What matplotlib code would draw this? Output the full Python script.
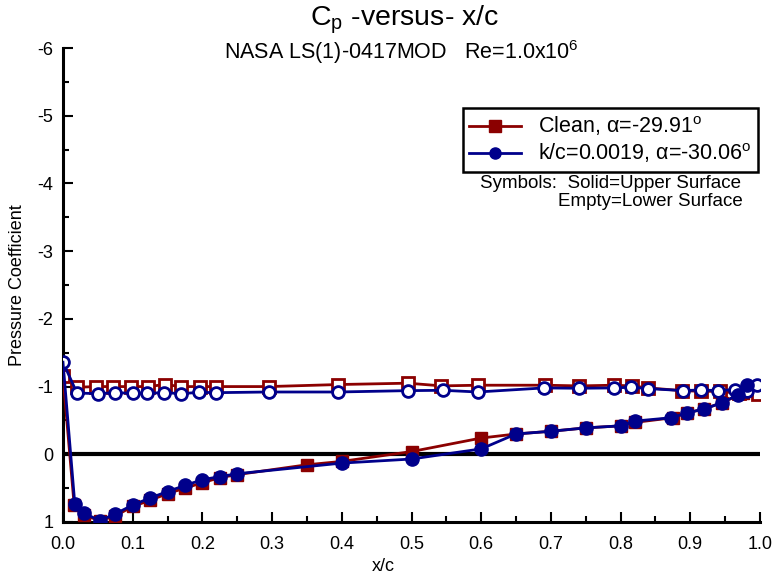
import matplotlib
matplotlib.use("Agg")
import matplotlib.pyplot as plt
from matplotlib.lines import Line2D
from matplotlib.ticker import MultipleLocator, FormatStrFormatter

plt.rcParams['font.family'] = ['Liberation Sans', 'DejaVu Sans']
plt.rcParams['axes.unicode_minus'] = False
plt.rcParams['mathtext.fontset'] = 'custom'
plt.rcParams['mathtext.rm'] = 'Liberation Sans'
plt.rcParams['mathtext.it'] = 'Liberation Sans:italic'

# Clean airfoil, upper surface (first point is the leading edge, shared with lower surface)
clean_upper_x = [0.0, 0.016, 0.03, 0.053, 0.075, 0.10, 0.125, 0.15, 0.175, 0.20, 0.225,
                 0.25, 0.35, 0.40, 0.50, 0.60, 0.65, 0.70, 0.75, 0.80, 0.82, 0.875,
                 0.895, 0.92, 0.945, 0.975]
clean_upper_cp = [-1.15, 0.75, 0.90, 0.98, 0.91, 0.77, 0.68, 0.58, 0.50, 0.42, 0.345,
                  0.30, 0.155, 0.105, -0.04, -0.24, -0.30, -0.34, -0.39, -0.42, -0.47,
                  -0.54, -0.61, -0.67, -0.76, -0.90]

# Clean airfoil, lower surface
clean_lower_x = [0.0, 0.02, 0.048, 0.072, 0.098, 0.122, 0.146, 0.17, 0.196, 0.22, 0.295,
                 0.395, 0.495, 0.543, 0.596, 0.692, 0.741, 0.79, 0.816, 0.84, 0.888,
                 0.916, 0.942, 0.97, 0.997]
clean_lower_cp = [-1.15, -0.99, -1.0, -1.0, -1.0, -1.0, -1.03, -1.0, -1.0, -1.0, -1.0,
                  -1.03, -1.05, -1.01, -1.02, -1.02, -1.01, -1.02, -1.01, -0.98, -0.94,
                  -0.93, -0.93, -0.90, -0.89]

# Roughness k/c = 0.0019, upper surface (first point is the leading edge)
rough_upper_x = [0.0, 0.017, 0.03, 0.053, 0.075, 0.10, 0.125, 0.15, 0.175, 0.20, 0.225,
                 0.25, 0.40, 0.50, 0.60, 0.65, 0.70, 0.75, 0.80, 0.82, 0.873, 0.895,
                 0.92, 0.945, 0.969, 0.982]
rough_upper_cp = [-1.36, 0.74, 0.87, 0.98, 0.88, 0.75, 0.645, 0.55, 0.46, 0.375, 0.33,
                  0.287, 0.13, 0.07, -0.08, -0.30, -0.34, -0.39, -0.42, -0.49, -0.54,
                  -0.61, -0.67, -0.76, -0.88, -1.02]

# Roughness k/c = 0.0019, lower surface
rough_lower_x = [0.0, 0.02, 0.05, 0.075, 0.10, 0.12, 0.145, 0.17, 0.195, 0.22, 0.295,
                 0.395, 0.495, 0.545, 0.595, 0.69, 0.74, 0.79, 0.815, 0.84, 0.89,
                 0.915, 0.94, 0.964, 0.982, 0.996]
rough_lower_cp = [-1.36, -0.905, -0.895, -0.91, -0.90, -0.90, -0.91, -0.895, -0.915, -0.91,
                  -0.92, -0.92, -0.94, -0.945, -0.92, -0.98, -0.975, -0.98, -0.99, -0.97,
                  -0.94, -0.95, -0.94, -0.955, -0.93, -1.03]

x_ticks = [0.0, 0.1, 0.2, 0.3, 0.4, 0.5, 0.6, 0.7, 0.8, 0.9, 1.0]
y_ticks = [-6, -5, -4, -3, -2, -1, 0, 1]

red = '#8b0000'
blue = '#00008b'

fig = plt.figure(figsize=(7.75, 5.76), dpi=100)
ax = fig.add_axes([63 / 775, 1 - 522 / 576, 697 / 775, 474 / 576])

# zero reference line
ax.plot([0.0, 1.0], [0.0, 0.0], color='black', lw=3, zorder=1)

lw = 2.0
ax.plot(clean_lower_x, clean_lower_cp, color=red, lw=lw, marker='s', ms=8,
        mfc='white', mec=red, mew=2, zorder=3)
ax.plot(clean_upper_x, clean_upper_cp, color=red, lw=lw, marker='s', ms=9,
        mfc=red, mec=red, markevery=list(range(1, len(clean_upper_x))), zorder=3)
ax.plot(rough_lower_x, rough_lower_cp, color=blue, lw=lw, marker='o', ms=8.5,
        mfc='white', mec=blue, mew=2, zorder=4)
ax.plot(rough_upper_x, rough_upper_cp, color=blue, lw=lw, marker='o', ms=9.5,
        mfc=blue, mec=blue, markevery=list(range(1, len(rough_upper_x))), zorder=4)

ax.set_xlim(0.0, 1.0)
ax.set_ylim(1, -6)
ax.set_xticks(x_ticks)
ax.set_yticks(y_ticks)
ax.xaxis.set_major_formatter(FormatStrFormatter('%.1f'))
ax.xaxis.set_minor_locator(MultipleLocator(0.05))
ax.yaxis.set_minor_locator(MultipleLocator(0.5))
ax.tick_params(which='both', direction='in', labelsize=13, width=1.5)
ax.tick_params(axis='x', which='major', pad=10)
ax.tick_params(axis='y', which='major', pad=7)
ax.tick_params(which='major', length=7)
ax.tick_params(which='minor', length=4)
for side in ('top', 'right'):
    ax.spines[side].set_visible(False)
for side in ('left', 'bottom'):
    ax.spines[side].set_linewidth(2.2)

ax.set_xlabel('x/c', fontsize=13)
ax.xaxis.set_label_coords((383 - 63) / 697, -0.075)
ax.set_ylabel('Pressure Coefficient', fontsize=13, labelpad=8)

fig.text(405 / 775, 1 - 20 / 576, r'C$_{\rm p}$ -versus- x/c', ha='center', va='center',
         fontsize=20.5)
fig.text(401 / 775, 1 - 52 / 576, r'NASA LS(1)-0417MOD   Re=1.0x10$^{6}$', ha='center',
         va='center', fontsize=15.5)

handles = [
    Line2D([], [], color=red, lw=lw, marker='s', ms=8, mfc=red, mec=red),
    Line2D([], [], color=blue, lw=lw, marker='o', ms=8, mfc=blue, mec=blue),
]
labels = [r'Clean, α=-29.91$^{\rm o}$', r'k/c=0.0019, α=-30.06$^{\rm o}$']
leg = ax.legend(handles, labels, loc='upper right',
                bbox_to_anchor=((758 - 63) / 697, (522 - 108) / 474),
                borderaxespad=0, fontsize=15.5, frameon=True, fancybox=False,
                framealpha=1, edgecolor='black', handlelength=2.4, borderpad=0.3,
                labelspacing=0.15, handletextpad=0.8)
leg.get_frame().set_linewidth(1.8)

fig.text(741 / 775, 1 - 184 / 576, 'Symbols:  Solid=Upper Surface', ha='right',
         va='center', fontsize=13.5)
fig.text(743 / 775, 1 - 202 / 576, 'Empty=Lower Surface', ha='right', va='center',
         fontsize=13.5)

fig.savefig('out.png', dpi=100)
